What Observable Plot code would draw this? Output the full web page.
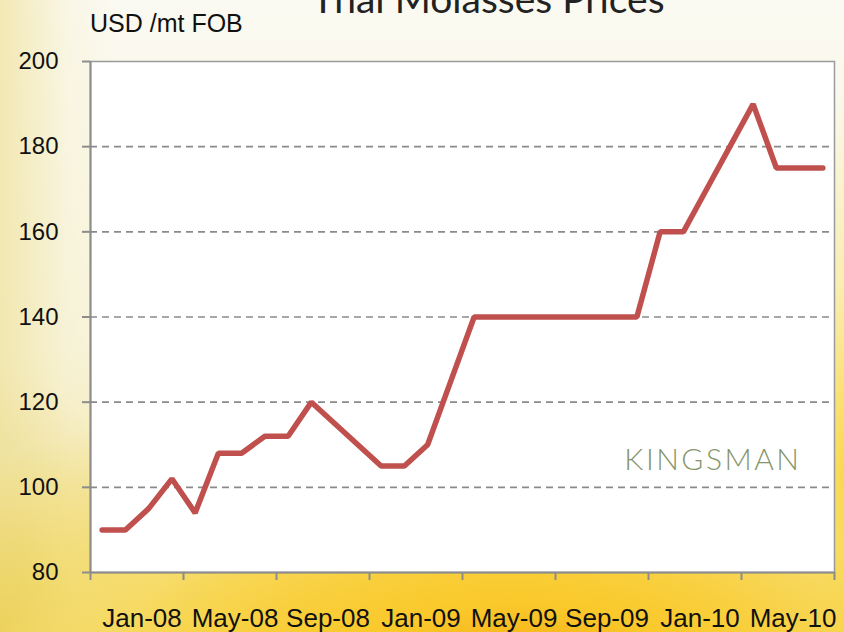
<!DOCTYPE html>
<html>
<head>
<meta charset="utf-8">
<script src="https://cdn.jsdelivr.net/npm/d3@7"></script>
<script src="https://cdn.jsdelivr.net/npm/@observablehq/plot@0.6"></script>
<style>
  html, body { margin: 0; padding: 0; }
  #wrap {
    position: relative; width: 844px; height: 632px; overflow: hidden;
    background:
      radial-gradient(ellipse 420px 200px at 62% 108%, rgba(245,160,10,0.95) 0%, rgba(250,200,40,0.9) 40%, rgba(250,220,90,0.0) 100%),
      radial-gradient(ellipse 700px 330px at 55% 112%, rgba(248,200,40,1) 0%, rgba(248,215,80,0.85) 45%, rgba(248,235,170,0.0) 100%),
      radial-gradient(ellipse 60px 380px at 100% 75%, rgba(250,215,70,0.95) 0%, rgba(250,230,130,0.5) 50%, rgba(255,255,255,0) 100%),
      radial-gradient(ellipse 160px 260px at 0% 100%, rgba(225,205,100,0.95) 0%, rgba(235,220,140,0.6) 50%, rgba(255,255,255,0) 100%),
      linear-gradient(to right, rgba(240,228,165,0.8) 0%, rgba(245,238,200,0.3) 8%, rgba(255,255,255,0) 14%),
      linear-gradient(to bottom, #fbfaf2 0%, #f8f4dc 55%, #f2e08a 100%);
  }
  #wrap svg { position: absolute; left: 0; top: 0; background: transparent; }
  .title { position: absolute; left: 0; width: 976px; top: -21px; line-height: 1; text-align: center;
    font-family: Lato, "Open Sans", sans-serif; font-size: 39px; color: #222; white-space: nowrap; }
  .unit { position: absolute; left: 90px; top: 9px; font-family: "Liberation Sans", Arial, sans-serif;
    font-size: 25px; color: #111; white-space: nowrap; }
</style>
</head>
<body>
<div id="wrap">
  <div class="title">Thai Molasses Prices</div>
  <div class="unit">USD /mt FOB</div>
</div>
<script>
// Monthly prices, Jan-08 .. Aug-10 (USD/mt FOB)
const months = ["Jan-08","Feb-08","Mar-08","Apr-08","May-08","Jun-08","Jul-08","Aug-08","Sep-08","Oct-08","Nov-08","Dec-08",
                "Jan-09","Feb-09","Mar-09","Apr-09","May-09","Jun-09","Jul-09","Aug-09","Sep-09","Oct-09","Nov-09","Dec-09",
                "Jan-10","Feb-10","Mar-10","Apr-10","May-10","Jun-10","Jul-10","Aug-10"];
const prices = [90, 90, 95, 102, 94, 108, 108, 112, 112, 120, 115, 110,
                105, 105, 110, 125, 140, 140, 140, 140, 140, 140, 140, 140,
                160, 160, 170, 180, 190, 175, 175, 175];
const yTicks = [80, 100, 120, 140, 160, 180, 200];
const gridValues = [100, 120, 140, 160, 180];
const xTickLabels = ["Jan-08","May-08","Sep-08","Jan-09","May-09","Sep-09","Jan-10","May-10"];
const brand = "KINGSMAN";

const data = months.map((m, i) => ({month: m, idx: i, price: prices[i]}));
const labelPos = xTickLabels.map(l => months.indexOf(l) + 2);
const tickPos = d3.range(0, months.length + 1, 4);

const chart = Plot.plot({
  width: 844,
  height: 632,
  marginLeft: 90,
  marginRight: 10,
  marginTop: 61,
  marginBottom: 60,
  style: {background: "transparent", fontFamily: "'Liberation Sans', Arial, sans-serif", color: "#111"},
  x: {type: "linear", domain: [0, months.length]},
  y: {domain: [80, 200]},
  marks: [
    Plot.frame({fill: "white", stroke: "#9a9a9a", strokeWidth: 1.5}),
    Plot.ruleY(gridValues, {stroke: "#8a8a8a", strokeWidth: 1.6, strokeDasharray: "7,5"}),
    Plot.ruleX([0], {stroke: "#8c8c8c", strokeWidth: 2}),
    Plot.ruleY([80], {stroke: "#8c8c8c", strokeWidth: 2}),
    Plot.axisY({ticks: yTicks, tickSize: 8, tickPadding: 24, fontSize: 24, stroke: "#8c8c8c", strokeWidth: 2, label: null}),
    Plot.axisX({ticks: tickPos, tickSize: 8, tickFormat: () => "", stroke: "#8c8c8c", strokeWidth: 2, label: null}),
    Plot.axisX({ticks: labelPos, tickSize: 0, tickPadding: 36, fontSize: 26, dx: 5,
                tickFormat: d => months[d - 2], label: null}),
    Plot.line(data, {x: d => d.idx + 0.5, y: "price", stroke: "#c0504d", strokeWidth: 5.5,
                     strokeLinejoin: "miter", strokeLinecap: "round"}),
    Plot.text([brand], {frameAnchor: "bottom-right", dx: -33, dy: -103, text: d => d,
                        fontSize: 30, fontFamily: "Lato, sans-serif", fontWeight: 300,
                        fill: "#86956a", textAnchor: "end"})
  ]
});
d3.select(chart).selectAll("text").filter(function () { return this.textContent === brand; })
  .style("letter-spacing", "2.5px");
document.getElementById("wrap").appendChild(chart);
</script>
</body>
</html>
